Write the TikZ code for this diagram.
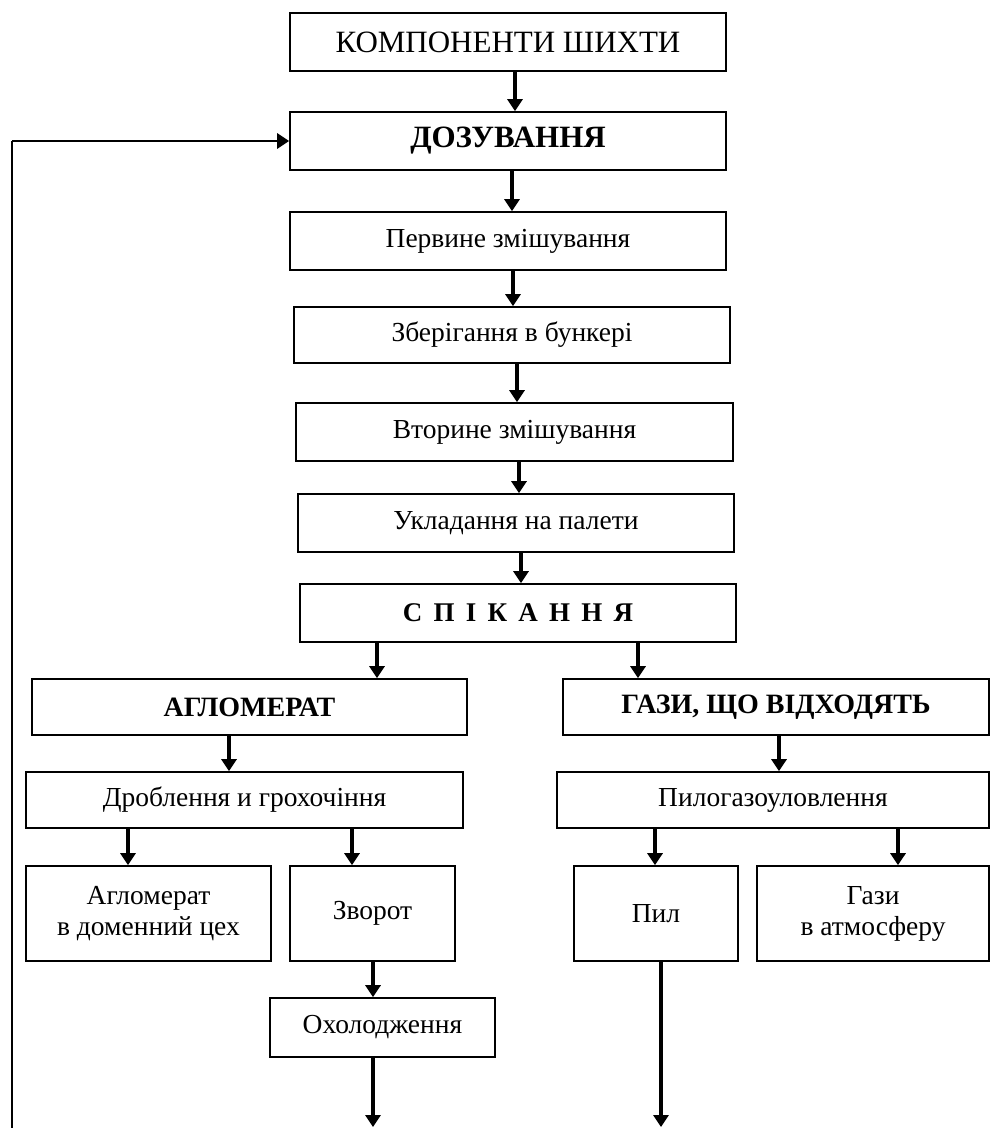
\documentclass[tikz,border=0pt]{standalone}
\usepackage{fontspec}
\setmainfont{Liberation Serif}
\usetikzlibrary{arrows.meta}
\tikzset{
    box/.style n args={2}{draw, line width=1.6pt, inner sep=0pt, align=center,
        minimum width=#1, minimum height=#2, font=\fontsize{27.5}{31}\selectfont},
    flow/.style={-{Triangle[length=12pt,width=15pt]}, line width=3.2pt},
    longflow/.style={flow, line width=4pt},
}

\begin{document}
\begin{tikzpicture}[x=1pt, y=-1pt]
        \useasboundingbox (0,0) rectangle (992,1128);
        \node[box={436pt}{58pt}, font=\fontsize{31}{34}\selectfont] (komp) at (508, 42) {КОМПОНЕНТИ ШИХТИ};
        \node[box={436pt}{58pt}, font=\fontsize{31}{34}\selectfont\bfseries] (doz) at (508, 141) {ДОЗУВАННЯ};
        \node[box={436pt}{58pt}] (perv) at (508, 241) {Первине змішування};
        \node[box={436pt}{56pt}] (zber) at (512, 335) {Зберігання в бункері};
        \node[box={437pt}{58pt}] (vtor) at (514.5, 432) {Вторине змішування};
        \node[box={436pt}{58pt}] (ukl) at (516, 523) {Укладання на палети};
        \node[box={436pt}{58pt}, font=\fontsize{27}{31}\selectfont\bfseries] (spik) at (518, 613) {С\,\ П\,\ І\,\ К\,\ А\,\ Н\,\ Н\,\ Я};
        \node[box={435pt}{56pt}, font=\fontsize{28}{31}\selectfont\bfseries] (aglo) at (249.5, 707) {АГЛОМЕРАТ};
        \node[box={426pt}{56pt}, font=\fontsize{28}{31}\selectfont\bfseries] (gazy) at (776, 707) {ГАЗИ, ЩО ВІДХОДЯТЬ};
        \node[box={437pt}{56pt}] (drob) at (244.5, 800) {Дроблення и грохочіння};
        \node[box={432pt}{56pt}] (pylo) at (773, 800) {Пилогазоуловлення};
        \node[box={245pt}{95pt}] (aglod) at (148.5, 913.5) {Агломерат\\в доменний цех};
        \node[box={165pt}{95pt}] (zvor) at (372.5, 913.5) {Зворот};
        \node[box={164pt}{95pt}] (pyl) at (656, 913.5) {Пил};
        \node[box={232pt}{95pt}] (gazat) at (873, 913.5) {Гази\\в атмосферу};
        \node[box={225pt}{59pt}] (okhol) at (382.5, 1027.5) {Охолодження};
        \coordinate (okend) at (373, 1127);
        \coordinate (pylend) at (661, 1127);
        \coordinate (fbbot) at (12, 1128);
        \coordinate (fbtop) at (12, 141);
        \draw[flow] (komp.south -| 515,0) -- (doz.north -| 515,0);
        \draw[flow] (doz.south -| 512,0) -- (perv.north -| 512,0);
        \draw[flow] (perv.south -| 513,0) -- (zber.north -| 513,0);
        \draw[flow] (zber.south -| 517,0) -- (vtor.north -| 517,0);
        \draw[flow] (vtor.south -| 519,0) -- (ukl.north -| 519,0);
        \draw[flow] (ukl.south -| 521,0) -- (spik.north -| 521,0);
        \draw[flow] (spik.south -| 377,0) -- (aglo.north -| 377,0);
        \draw[flow] (spik.south -| 638,0) -- (gazy.north -| 638,0);
        \draw[flow] (aglo.south -| 229,0) -- (drob.north -| 229,0);
        \draw[flow] (gazy.south -| 779,0) -- (pylo.north -| 779,0);
        \draw[flow] (drob.south -| 128,0) -- (aglod.north -| 128,0);
        \draw[flow] (drob.south -| 352,0) -- (zvor.north -| 352,0);
        \draw[flow] (pylo.south -| 655,0) -- (pyl.north -| 655,0);
        \draw[flow] (pylo.south -| 898,0) -- (gazat.north -| 898,0);
        \draw[longflow] (zvor.south -| 373,0) -- (okhol.north -| 373,0);
        \draw[longflow] (okhol.south -| 373,0) -- (okend);
        \draw[longflow] (pyl.south -| 661,0) -- (pylend);
        \draw[line width=1.8pt] (fbbot) -- (fbtop);
        \draw[flow, line width=2.8pt] (fbtop) -- (doz.west);
    \end{tikzpicture}
\end{document}
